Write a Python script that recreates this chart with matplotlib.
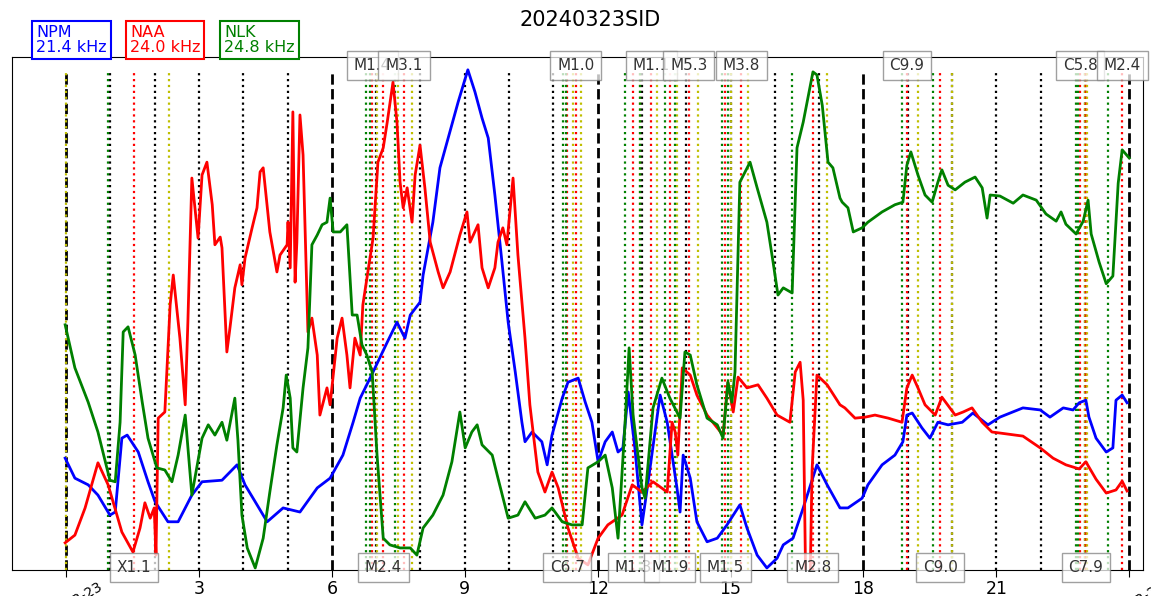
import matplotlib.pyplot as plt
import matplotlib.transforms as mtransforms
import numpy as np

# hours after 2024-03-23 00:00, amplitude in % of plot height
npm_hours = [-0.02, 0.20, 0.50, 0.72, 0.99, 1.11, 1.26, 1.38, 1.63, 1.85, 2.01, 2.30, 2.53, 2.84, 3.07,
             3.52, 3.86, 4.04, 4.27, 4.54, 4.90, 5.28, 5.67, 5.96, 6.25, 6.48, 6.64, 6.93, 7.25, 7.47,
             7.65, 7.77, 7.99, 8.06, 8.28, 8.44, 8.60, 8.85, 9.07, 9.23, 9.39, 9.53, 9.68, 9.84, 9.98,
             10.14, 10.29, 10.36, 10.52, 10.74, 10.86, 10.97, 11.20, 11.33, 11.56, 11.72, 11.87, 12.01,
             12.17, 12.33, 12.46, 12.57, 12.69, 12.84, 13.00, 13.12, 13.41, 13.57, 13.79, 13.86, 13.93,
             14.09, 14.24, 14.47, 14.70, 14.92, 15.21, 15.37, 15.60, 15.82, 16.05, 16.19, 16.41, 16.64,
             16.95, 17.18, 17.47, 17.65, 17.97, 18.10, 18.42, 18.71, 18.89, 18.98, 19.10, 19.32, 19.50,
             19.68, 19.91, 20.23, 20.47, 20.81, 21.08, 21.60, 21.99, 22.21, 22.51, 22.73, 22.87, 23.02,
             23.09, 23.25, 23.48, 23.63, 23.70, 23.84, 23.95]
npm_amp = [21.8, 17.9, 16.6, 14.6, 10.7, 11.3, 25.7, 26.3, 23.0, 17.2, 13.3, 9.4, 9.4, 14.6, 17.2,
           17.5, 20.5, 16.6, 13.3, 9.4, 12.1, 11.3, 16.0, 17.9, 22.4, 28.8, 33.5, 38.6, 44.4, 48.3,
           45.2, 49.7, 52.2, 57.5, 67.8, 78.4, 83.4, 91.2, 97.5, 93.2, 88.1, 84.2, 73.1, 60.0, 48.3,
           38.6, 28.8, 25.0, 26.9, 25.0, 20.5, 26.3, 33.5, 36.6, 37.4, 32.7, 28.8, 21.1,
           25.0, 26.9, 23.0, 23.8, 34.7, 23.8, 8.8, 16.0, 34.1, 28.8, 16.0, 11.3, 22.4,
           17.9, 9.4, 5.5, 6.2, 8.8, 12.7, 8.2, 2.9, 0.4, 2.3, 4.9, 6.2, 12.1,
           20.5, 16.6, 12.1, 12.1, 14.0, 16.6, 20.5, 22.4, 25.0, 30.2, 30.6, 27.7, 25.7,
           28.8, 28.3, 28.8, 30.6, 28.3, 29.8, 31.6, 31.2, 29.8, 31.6, 31.2, 32.6, 33.1,
           29.8, 25.7, 23.0, 23.8, 33.1, 34.1, 32.6]

naa_hours = [-0.02, 0.20, 0.43, 0.72, 0.95, 1.26, 1.51, 1.67, 1.78, 1.90, 1.99, 2.03, 2.08, 2.23, 2.35,
             2.42, 2.57, 2.69, 2.75, 2.84, 2.98, 3.07, 3.18, 3.30, 3.36, 3.48, 3.52, 3.63, 3.70, 3.81,
             3.93, 3.97, 4.04, 4.20, 4.31, 4.38, 4.45, 4.60, 4.76, 4.83, 4.99, 5.01, 5.06, 5.12, 5.17,
             5.21, 5.28, 5.35, 5.46, 5.55, 5.67, 5.73, 5.89, 5.96, 6.12, 6.23, 6.34, 6.41, 6.52, 6.64,
             6.70, 6.93, 7.04, 7.16, 7.25, 7.38, 7.47, 7.54, 7.61, 7.70, 7.81, 7.88, 7.99, 8.10, 8.22,
             8.40, 8.51, 8.67, 8.89, 9.05, 9.12, 9.30, 9.39, 9.53, 9.68, 9.75, 9.86, 9.95, 10.09, 10.20,
             10.36, 10.47, 10.65, 10.81, 10.97, 11.11, 11.33, 11.56, 11.78, 12.01, 12.23, 12.55, 12.78,
             13.00, 13.25, 13.57, 13.68, 13.75, 13.81, 13.91, 14.09, 14.24, 14.47, 14.83, 14.94, 15.06,
             15.17, 15.37, 15.62, 15.82, 16.05, 16.34, 16.46, 16.57, 16.64, 16.70, 16.79, 16.84, 16.95,
             17.18, 17.47, 17.58, 17.81, 18.04, 18.26, 18.56, 18.87, 18.98, 19.10, 19.23, 19.39, 19.62,
             19.77, 20.07, 20.25, 20.45, 20.68, 20.90, 21.08, 21.60, 21.99, 22.28, 22.57, 22.87, 23.02,
             23.25, 23.48, 23.70, 23.84, 23.95]
naa_amp = [5.3, 6.8, 12.1, 20.9, 16.6, 7.4, 3.5, 8.2, 13.1, 10.1, 12.1, 2.9, 29.6, 30.8, 51.7,
           57.5, 45.2, 32.2, 48.3, 76.4, 64.7, 77.0, 79.5, 71.2, 63.4, 64.9, 62.8, 42.5, 47.2, 55.0,
           59.5, 55.6, 60.8, 66.7, 70.6, 77.6, 78.4, 65.9, 58.1, 61.4, 63.4, 67.8, 58.9, 89.3, 56.1,
           63.9, 88.7, 80.9, 46.4, 49.1, 41.9, 30.2, 35.5, 32.2, 45.2, 49.1, 41.9, 35.5, 45.2, 41.9,
           51.7, 64.7, 79.5, 82.3, 87.3, 95.1, 87.3, 75.6, 70.6, 74.5, 67.8, 77.0, 82.8, 74.5, 63.9,
           58.1, 55.0, 58.1, 65.3, 69.8, 63.9, 67.3, 58.9, 55.0, 58.9, 63.9, 66.7, 63.4, 76.4, 61.4,
           45.2, 32.2, 19.1, 15.2, 19.1, 16.0, 8.2, 2.3, 1.0, 6.2, 8.8, 10.7, 16.6,
           15.2, 17.2, 15.2, 28.8, 26.9, 22.4, 39.4, 38.0, 34.1, 30.2, 26.3, 36.6, 30.8,
           37.6, 35.5, 36.1, 33.5, 30.2, 28.8, 38.6, 40.5, 33.1, -5.0, -5.0, 19.5, 38.0,
           36.1, 32.2, 31.6, 29.6, 29.8, 30.2, 29.6, 28.8, 35.5, 38.0, 35.5, 32.2, 30.2,
           33.7, 30.2, 30.8, 31.6, 28.8, 26.9, 26.7, 26.1, 23.8, 21.8, 20.5, 19.7, 21.1,
           17.7, 15.0, 15.6, 17.3, 15.4]

nlk_hours = [-0.02, 0.20, 0.50, 0.72, 0.99, 1.11, 1.22, 1.29, 1.40, 1.56, 1.72, 1.85, 2.05, 2.23, 2.39,
             2.53, 2.69, 2.84, 3.07, 3.21, 3.36, 3.52, 3.63, 3.75, 3.81, 3.88, 3.97, 4.09, 4.27, 4.45,
             4.60, 4.76, 4.90, 4.97, 5.06, 5.12, 5.21, 5.35, 5.46, 5.55, 5.67, 5.78, 5.89, 5.96, 6.03,
             6.19, 6.34, 6.46, 6.57, 6.68, 6.79, 6.91, 7.02, 7.16, 7.31, 7.54, 7.77, 7.92, 8.06, 8.28,
             8.51, 8.71, 8.89, 9.01, 9.16, 9.28, 9.39, 9.62, 9.75, 9.98, 10.20, 10.36, 10.59, 10.81,
             10.97, 11.20, 11.42, 11.65, 11.78, 12.01, 12.17, 12.33, 12.46, 12.62, 12.71, 12.80, 13.00,
             13.07, 13.25, 13.45, 13.63, 13.86, 13.97, 14.09, 14.24, 14.47, 14.70, 14.83, 14.94, 15.03,
             15.10, 15.21, 15.44, 15.60, 15.82, 15.96, 16.07, 16.19, 16.39, 16.50, 16.64, 16.86, 16.95,
             17.07, 17.20, 17.31, 17.47, 17.52, 17.65, 17.77, 17.97, 18.10, 18.42, 18.71, 18.89, 18.98,
             19.07, 19.23, 19.39, 19.55, 19.68, 19.77, 19.91, 20.07, 20.29, 20.52, 20.68, 20.79, 20.86,
             21.08, 21.38, 21.60, 21.90, 22.12, 22.35, 22.46, 22.57, 22.80, 22.96, 23.07, 23.14, 23.32,
             23.48, 23.63, 23.75, 23.84, 24.00]
nlk_amp = [47.8, 39.4, 32.7, 26.9, 17.5, 17.2, 28.8, 46.4, 47.4, 41.9, 32.7, 25.7, 19.9, 19.5, 17.2,
           22.4, 30.2, 14.6, 25.7, 28.3, 26.3, 28.8, 25.3, 30.8, 33.5, 25.3, 10.7, 4.3, 0.4, 6.2,
           15.2, 24.4, 31.6, 38.0, 33.5, 23.8, 23.0, 35.5, 43.3, 63.4, 65.3, 67.3, 67.8, 72.5, 65.9,
           65.9, 67.3, 49.7, 49.7, 43.9, 41.9, 38.6, 22.4, 6.2, 4.9, 4.3, 4.3, 2.9, 8.2, 10.7,
           14.6, 21.1, 30.8, 23.8, 26.9, 28.3, 24.4, 22.4, 17.9, 10.1, 10.7, 13.3, 10.1, 10.7,
           12.1, 9.4, 8.8, 8.8, 19.9, 21.1, 22.4, 16.0, 6.2, 28.8, 43.3, 30.2, 16.0,
           14.0, 31.6, 37.4, 33.5, 29.6, 42.5, 41.9, 36.1, 29.6, 28.3, 25.7, 36.6, 32.7,
           38.6, 75.6, 79.5, 74.5, 67.8, 60.0, 53.6, 55.0, 54.0, 82.3, 87.3, 97.1, 96.5,
           90.6, 79.5, 78.4, 72.5, 71.7, 70.6, 65.9, 66.7, 67.8, 69.8, 71.2, 71.7, 78.9,
           81.5, 77.0, 73.1, 71.7, 75.6, 78.0, 75.0, 74.1, 75.6, 76.6, 74.5, 68.6, 73.1,
           72.9, 71.5, 73.1, 72.1, 69.4, 68.0, 69.8, 67.4, 65.5, 68.0, 72.1, 65.5, 60.0,
           55.8, 57.3, 75.4, 81.9, 80.3]

hour_lines = [1, 2, 3, 4, 5, 7, 8, 9, 10, 11, 13, 14, 15, 16, 17, 19, 20, 21, 22, 23]
six_hour_lines = [0, 6, 12, 18, 24]

# flares: start (green), peak (red), end (yellow)
flare_class = ['X1.1', 'M1.4', 'M2.4', 'M3.1', 'C6.7', 'M1.0', 'M1.3', 'M1.1', 'M1.9',
               'M5.3', 'M1.5', 'M3.8', 'M2.8', 'C9.9', 'C9.0', 'C5.8', 'C7.9', 'M2.4']
flare_start = [0.95, 6.78, 6.85, 7.43, 11.22, 11.28, 12.62, 12.96, 13.52,
               13.75, 14.81, 14.95, 16.39, 18.87, 19.57, 22.80, 22.85, 23.52]
flare_peak = [1.54, 6.91, 7.16, 7.63, 11.31, 11.51, 12.80, 13.21, 13.63,
              14.06, 14.88, 15.24, 16.86, 18.98, 19.73, 22.89, 23.02, 23.84]
flare_end = [2.33, 7.02, 7.50, 7.81, 11.45, 11.63, 12.95, 13.34, 13.80,
             14.27, 15.00, 15.40, 17.18, 19.23, 20.00, 23.00, 23.05, np.nan]
early_end = [0.0]  # end of a flare from the day before

stations = ['NPM\n21.4 kHz', 'NAA\n24.0 kHz', 'NLK\n24.8 kHz']
station_colors = ['b', 'r', 'g']

fig = plt.figure(figsize=(11.51, 5.96), dpi=100)
ax = fig.add_axes([12/1151, 26/596, 1131/1151, 513/596])

for h in six_hour_lines:
    ax.axvline(h, ymax=0.975, color='k', ls='--', lw=2)
for h in hour_lines:
    ax.axvline(h, ymax=0.975, color='k', ls=':', lw=1.6)
for h in early_end:
    ax.axvline(h, ymax=0.975, color='y', ls=':', lw=1.6)
for s, p, e in zip(flare_start, flare_peak, flare_end):
    ax.axvline(s, ymax=0.975, color='g', ls=':', lw=1.6)
    ax.axvline(p, ymax=0.975, color='r', ls=':', lw=1.6)
    if not np.isnan(e):
        ax.axvline(e, ymax=0.975, color='y', ls=':', lw=1.6)

ax.plot(npm_hours, npm_amp, color='b', lw=2)
ax.plot(naa_hours, naa_amp, color='r', lw=2)
ax.plot(nlk_hours, nlk_amp, color='g', lw=2)

trans = mtransforms.blended_transform_factory(ax.transData, ax.transAxes)
for i, (cls, p) in enumerate(zip(flare_class, flare_peak)):
    yy = 0.983 if i % 2 else 0.005
    ax.text(p, yy, cls, transform=trans, ha='center', va='center', fontsize=11,
            color='#333333', clip_on=False, zorder=5,
            bbox=dict(boxstyle='square,pad=0.45', fc='white', ec='gray', alpha=0.75))

ax.set_xlim(-1.22, 24.31)
ax.set_ylim(0, 100)
ax.set_yticks([])
ax.set_xticks(np.arange(0, 25, 3))
ax.set_xticklabels(['2024-03-23', '3', '6', '9', '12', '15', '18', '21', '2024-03-24'], fontsize=12.5)
for lab in (ax.get_xticklabels()[0], ax.get_xticklabels()[-1]):
    lab.set_rotation(30)
    lab.set_fontsize(10)
ax.tick_params(axis='x', length=5, pad=2)

fig.text(590/1151, 1 - 20/596, '20240323SID', ha='center', va='center', fontsize=15)
for k, (txt, c) in enumerate(zip(stations, station_colors)):
    fig.text((36 + 94*k)/1151, 1 - 40/596, txt, color=c, ha='left', va='center', fontsize=11.5,
             linespacing=1.0,
             bbox=dict(boxstyle='square,pad=0.25', fc='white', ec=c, lw=1.5))

fig.savefig('out.png', dpi=100)
